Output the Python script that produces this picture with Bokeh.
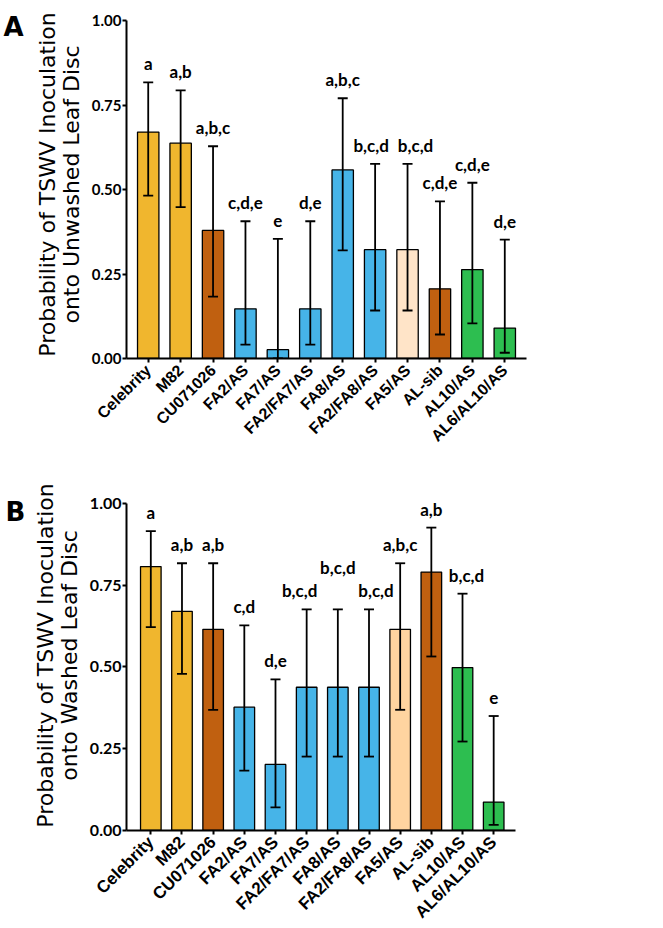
import math
from bokeh.plotting import figure
from bokeh.models import (ColumnDataSource, Whisker, LabelSet, Range1d,
                          TeeHead, FixedTicker, NumeralTickFormatter)
from bokeh.layouts import column, row
from bokeh.core.properties import value
from bokeh.embed import file_html
from bokeh.resources import INLINE

genotypes = ["Celebrity", "M82", "CU071026", "FA2/AS", "FA7/AS", "FA2/FA7/AS",
             "FA8/AS", "FA2/FA8/AS", "FA5/AS", "AL-sib", "AL10/AS", "AL6/AL10/AS"]

# Panel A: unwashed leaf disc
prob_A = [0.670, 0.637, 0.379, 0.147, 0.026, 0.147, 0.558, 0.322, 0.322, 0.206, 0.263, 0.090]
upper_A = [0.817, 0.793, 0.628, 0.406, 0.354, 0.406, 0.770, 0.576, 0.576, 0.465, 0.520, 0.352]
lower_A = [0.482, 0.448, 0.183, 0.041, 0.000, 0.041, 0.320, 0.142, 0.142, 0.071, 0.104, 0.017]
letters_A = ["a", "a,b", "a,b,c", "c,d,e", "e", "d,e", "a,b,c", "b,c,d", "b,c,d",
             "c,d,e", "c,d,e", "d,e"]

# Panel B: washed leaf disc
prob_B = [0.807, 0.670, 0.615, 0.377, 0.202, 0.438, 0.438, 0.438, 0.615, 0.790, 0.498, 0.087]
upper_B = [0.915, 0.817, 0.817, 0.627, 0.462, 0.676, 0.676, 0.676, 0.817, 0.926, 0.724, 0.350]
lower_B = [0.622, 0.479, 0.369, 0.183, 0.071, 0.226, 0.226, 0.226, 0.369, 0.532, 0.272, 0.017]
letters_B = ["a", "a,b", "a,b", "c,d", "d,e", "b,c,d", "b,c,d", "b,c,d", "a,b,c",
             "a,b", "b,c,d", "e"]

y_ticks = [0.0, 0.25, 0.50, 0.75, 1.00]
panel_names = ["A", "B"]

GOLD, BROWN, BLUE, GREEN = "#F0B62E", "#C06010", "#46B4E8", "#2DBE50"
colors_A = [GOLD, GOLD, BROWN, BLUE, BLUE, BLUE, BLUE, BLUE, "#FFE4C8", BROWN, GREEN, GREEN]
colors_B = [GOLD, GOLD, BROWN, BLUE, BLUE, BLUE, BLUE, BLUE, "#FFD4A0", BROWN, GREEN, GREEN]


def make_panel(vals, upper, lower, letters, colors, ylabel,
               x_start, x_end, y_end, fw, fh, bl, bt, bb,
               lift_extra, nudge, tick_fs, xlab_fs):
    n = len(genotypes)
    lift = [12 + lift_extra.get(g, 0) for g in genotypes]
    shift = [nudge.get(g, 0) for g in genotypes]
    src = ColumnDataSource(dict(x=list(range(n)), top=vals, upper=upper, lower=lower,
                                color=colors, letter=letters, lift=lift, shift=shift))
    p = figure(frame_width=fw, frame_height=fh,
               x_range=Range1d(x_start, x_end), y_range=Range1d(0, y_end),
               output_backend="svg", toolbar_location=None,
               min_border_left=bl, min_border_right=20, min_border_top=bt,
               min_border_bottom=bb)
    p.outline_line_color = None
    p.xgrid.visible = False
    p.ygrid.visible = False

    p.vbar(x="x", top="top", bottom=0, width=0.66, fill_color="color",
           line_color="black", line_width=1.3, source=src)

    head = dict(size=10, line_width=1.8, line_color="black")
    w = Whisker(base="x", upper="upper", lower="lower", source=src,
                line_color="black", line_width=1.8, level="overlay",
                upper_head=TeeHead(**head), lower_head=TeeHead(**head))
    p.add_layout(w)

    ls = LabelSet(x="x", y="upper", text="letter", source=src,
                  x_offset="shift", y_offset="lift",
                  text_align="center", text_baseline="alphabetic",
                  text_font=value("Lato"), text_font_style="bold",
                  text_font_size="17px", text_color="black")
    p.add_layout(ls)

    ya = p.yaxis[0]
    ya.ticker = FixedTicker(ticks=y_ticks)
    ya.formatter = NumeralTickFormatter(format="0.00")
    ya.bounds = (0, 1)
    ya.axis_label = ylabel
    ya.axis_label_text_font = "DejaVu Sans"
    ya.axis_label_text_font_style = "normal"
    ya.axis_label_text_font_size = "22px"
    ya.axis_label_text_line_height = 0.95
    ya.axis_label_standoff = 5
    ya.major_label_text_font = "Lato"
    ya.major_label_text_font_style = "bold"
    ya.major_label_text_font_size = tick_fs
    ya.major_label_standoff = 1

    xa = p.xaxis[0]
    xa.ticker = FixedTicker(ticks=list(range(n)))
    xa.major_label_overrides = {i: g for i, g in enumerate(genotypes)}
    xa.major_label_orientation = math.pi / 4
    xa.major_label_text_font = "Liberation Sans"
    xa.major_label_text_font_style = "bold"
    xa.major_label_text_font_size = xlab_fs
    xa.major_label_standoff = 5

    for ax in (xa, ya):
        ax.axis_line_width = 2
        ax.axis_line_color = "black"
        ax.major_tick_line_width = 2
        ax.major_tick_line_color = "black"
        ax.major_tick_in = 0
        ax.major_tick_out = 4
        ax.minor_tick_line_color = None
        ax.major_label_text_color = "black"
        ax.axis_label_text_color = "black"
    return p


LW = 30  # width of the strip holding the panel letters
pA = make_panel(prob_A, upper_A, lower_A, letters_A, colors_A,
                "Probability of TSWV Inoculation\nonto Unwashed Leaf Disc",
                -0.67, 11.67, 1.0296, 400, 348, 122 - LW, 10, 122,
                {}, {"FA2/FA8/AS": -4, "FA5/AS": 8}, "15px", "16px")
pB = make_panel(prob_B, upper_B, lower_B, letters_B, colors_B,
                "Probability of TSWV Inoculation\nonto Washed Leaf Disc",
                -0.78, 11.70, 1.07, 389, 350, 118 - LW, 0, 90,
                {"FA8/AS": 23}, {"FA2/FA7/AS": -7, "FA2/FA8/AS": 7, "AL10/AS": 4},
                "16px", "17px")

total_h = 10 + 348 + 122 + 350 + 90
letters_fig = figure(width=LW, height=total_h, x_range=Range1d(0, LW),
                     y_range=Range1d(total_h, 0), output_backend="svg",
                     toolbar_location=None, min_border=0)
letters_fig.axis.visible = False
letters_fig.grid.visible = False
letters_fig.outline_line_color = None
letters_fig.text(x=[3, 5], y=[26, 511], text=panel_names,
                 text_font=value("DejaVu Sans"), text_font_style="bold",
                 text_font_size="26px", text_baseline="alphabetic",
                 text_align="left", text_color="black")

layout = row(letters_fig, column(pA, pB, spacing=0), spacing=0)
open("out.html", "w").write(file_html(layout, INLINE))
